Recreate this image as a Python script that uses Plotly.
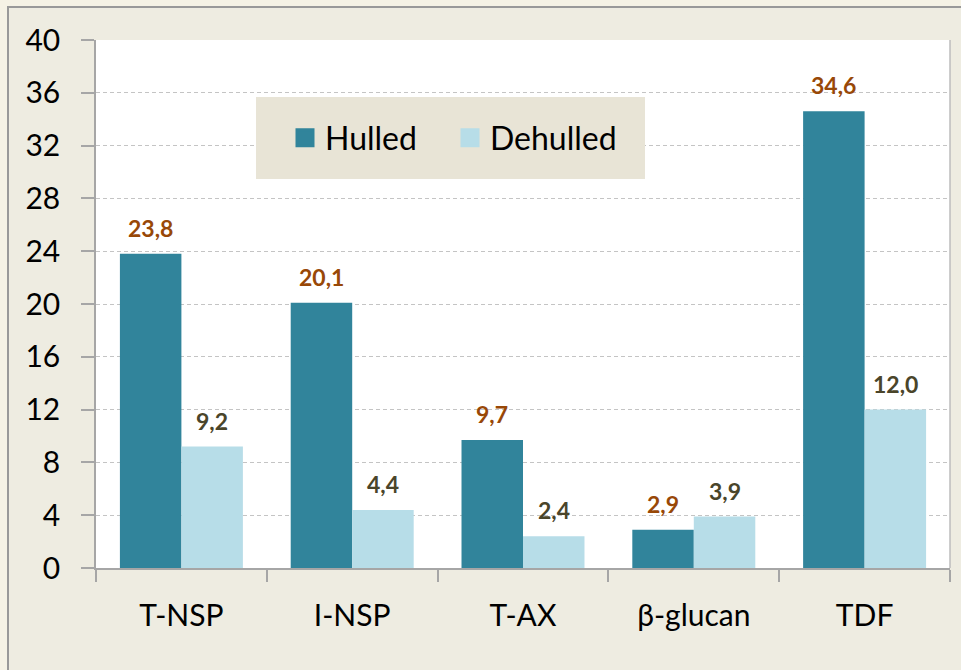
import plotly.graph_objects as go

categories = ["T-NSP", "I-NSP", "T-AX", "β-glucan", "TDF"]
hulled = [23.8, 20.1, 9.7, 2.9, 34.6]
dehulled = [9.2, 4.4, 2.4, 3.9, 12.0]
series_names = ["Hulled", "Dehulled"]
y_ticks = [0, 4, 8, 12, 16, 20, 24, 28, 32, 36, 40]

W, H = 961, 670
L, R, T, B = 96, 950, 40, 568
pw, ph = R - L, B - T

def px_x(x):
    return (x - L) / pw

def px_y(y):
    return (B - y) / ph

C_HULL = "#31849B"
C_DEHULL = "#B7DDE8"
FONT = "Lato"

def fmt(v):
    return f"{v:.1f}".replace(".", ",")

fig = go.Figure()
fig.add_trace(go.Bar(x=categories, y=hulled, name=series_names[0], marker_color=C_HULL,
                     marker_line_width=0, showlegend=False))
fig.add_trace(go.Bar(x=categories, y=dehulled, name=series_names[1], marker_color=C_DEHULL,
                     marker_line_width=0, showlegend=False))
# legend entries
for nm, col in zip(series_names, [C_HULL, C_DEHULL]):
    fig.add_trace(go.Scatter(x=[None], y=[None], mode="markers", name=nm,
                             marker=dict(symbol="square", size=16, color=col,
                                         line=dict(color=col, width=3))))

bw = 0.36
annotations = []
for i, (h, d) in enumerate(zip(hulled, dehulled)):
    annotations.append(dict(x=i - bw / 2, y=h, text=f"<b>{fmt(h)}</b>", showarrow=False,
                            yanchor="middle", yshift=26, xref="x", yref="y",
                            font=dict(family=FONT, size=23, color="#984807")))
    annotations.append(dict(x=i + bw / 2, y=d, text=f"<b>{fmt(d)}</b>", showarrow=False,
                            yanchor="middle", yshift=26, xref="x", yref="y",
                            font=dict(family=FONT, size=23, color="#4A452A")))

shapes = [
    # outer cream strips
    dict(type="rect", xref="paper", yref="paper", x0=px_x(-5), x1=px_x(8), y0=px_y(H + 20), y1=px_y(-5),
         fillcolor="#F5F2E5", line_width=0, layer="above"),
    dict(type="rect", xref="paper", yref="paper", x0=px_x(-5), x1=px_x(W + 20), y0=px_y(7), y1=px_y(-5),
         fillcolor="#F5F2E5", line_width=0, layer="above"),
    # frame
    dict(type="rect", xref="paper", yref="paper", x0=px_x(8), x1=px_x(W + 30), y0=px_y(H + 30), y1=px_y(7),
         line=dict(color="#999999", width=2), fillcolor="rgba(0,0,0,0)", layer="above"),
    # right border of plot area
    dict(type="line", xref="paper", yref="paper", x0=1, x1=1, y0=0, y1=1,
         line=dict(color="#BDBDBD", width=1.5), layer="above"),
    # legend box
    dict(type="rect", xref="paper", yref="paper", x0=px_x(256), x1=px_x(645), y0=px_y(179), y1=px_y(97),
         fillcolor="#E8E4D6", line_width=0, layer="above"),
]

fig.update_layout(
    width=W, height=H,
    margin=dict(l=L, r=W - R, t=T, b=H - B, pad=0),
    paper_bgcolor="#EEECE1",
    plot_bgcolor="#FFFFFF",
    barmode="group",
    bargap=0.28,
    bargroupgap=0,
    font=dict(family=FONT, size=30, color="#000000"),
    showlegend=True,
    legend=dict(orientation="h", x=px_x(285), y=px_y(138), xanchor="left", yanchor="middle",
                bgcolor="rgba(0,0,0,0)", font=dict(family=FONT, size=32, color="#000000"),
                entrywidth=120, entrywidthmode="pixels", itemclick=False),
    annotations=annotations,
    shapes=shapes,
)
fig.update_yaxes(range=[0, 40], tickvals=y_ticks, showgrid=True, gridcolor="#C4C4C4",
                 griddash="4px,3px", gridwidth=1, zeroline=False,
                 showline=True, linecolor="#A6A6A6", linewidth=1.5,
                 ticks="outside", ticklen=13, tickcolor="#A6A6A6", tickwidth=1.5,
                 ticklabelstandoff=15, tickfont=dict(family=FONT, size=30, color="#000000"))
fig.update_xaxes(type="category", showgrid=False, showline=True, linecolor="#A6A6A6", linewidth=1.5,
                 ticks="outside", tickson="boundaries", ticklen=12, tickcolor="#A6A6A6", tickwidth=1.5,
                 ticklabelstandoff=20, tickfont=dict(family=FONT, size=30, color="#000000"))

fig.write_html("out.html", config={"displayModeBar": False},
               post_script="document.body.style.margin='0';document.body.style.background='#F5F2E5';")
